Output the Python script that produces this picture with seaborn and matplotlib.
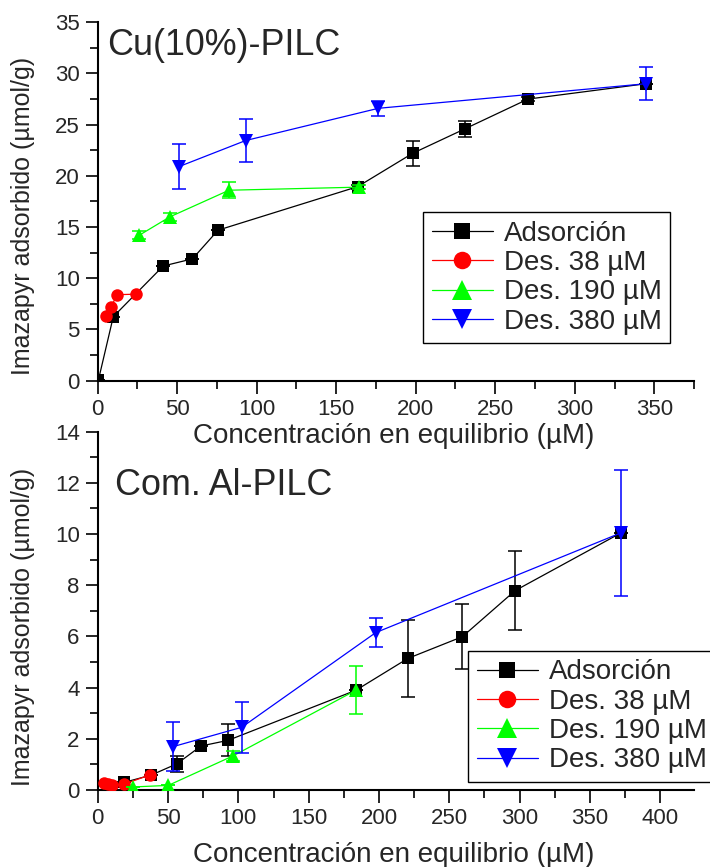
import matplotlib
matplotlib.use("Agg")
import matplotlib.pyplot as plt
import seaborn as sns
from matplotlib.ticker import MultipleLocator

# --- Cu(10%)-PILC (top panel) ---
cu_ads_x = [0.5, 9.8, 41.2, 59.6, 75.7, 163.5, 198, 231, 270.6, 344.8]
cu_ads_y = [0.1, 6.25, 11.2, 11.9, 14.7, 18.95, 22.2, 24.6, 27.5, 29.0]
cu_ads_err = [0, 0, 0, 0, 0, 0.2, 1.2, 0.8, 0.2, 0]

cu_d38_x = [5.2, 8.3, 12.3, 24.4]
cu_d38_y = [6.35, 7.2, 8.4, 8.45]

cu_d190_x = [26.1, 45.4, 82.6, 164.1]
cu_d190_y = [14.2, 16.0, 18.6, 18.9]
cu_d190_err = [0.4, 0.4, 0.8, 0.2]

cu_d380_x = [51, 93, 176.5, 344.8]
cu_d380_y = [20.9, 23.45, 26.6, 29.0]
cu_d380_err = [2.2, 2.1, 0.75, 1.6]

# --- Com. Al-PILC (bottom panel) ---
al_ads_x = [18.9, 37.9, 56.2, 73.5, 92.7, 183.7, 220.5, 259.3, 296.8, 372.2]
al_ads_y = [0.3, 0.58, 1.02, 1.72, 1.94, 3.9, 5.14, 5.99, 7.79, 10.05]
al_ads_err = [0, 0, 0.3, 0, 0.62, 0, 1.49, 1.26, 1.54, 0]

al_d38_x = [4.5, 7.5, 10.5, 18.5, 37.5]
al_d38_y = [0.26, 0.22, 0.18, 0.22, 0.6]

al_d190_x = [25.3, 50.2, 96.5, 183.7]
al_d190_y = [0.12, 0.18, 1.34, 3.9]
al_d190_err = [0, 0, 0.2, 0.93]

al_d380_x = [53.3, 102.4, 197.7, 372.2]
al_d380_y = [1.69, 2.45, 6.15, 10.05]
al_d380_err = [0.95, 1.0, 0.57, 2.47]

labels = ["Adsorción", "Des. 38 µM", "Des. 190 µM", "Des. 380 µM"]
colors = ["black", "#ff0000", "#00ff00", "#0000ff"]
markers = ["s", "o", "^", "v"]
msizes = [8, 9, 10, 10]

sns.set_theme(style="ticks")
plt.rcParams["font.family"] = ["Liberation Sans", "DejaVu Sans"]

fig = plt.figure(figsize=(7.1, 8.67), dpi=100)
ax1 = fig.add_axes([0.1376, 0.5609, 0.8399, 0.4134])
ax2 = fig.add_axes([0.1376, 0.0888, 0.8399, 0.4133])
for ax in (ax1, ax2):
    ax.set_facecolor("none")


def draw_panel(ax, series, errs):
    for i, (x, y) in enumerate(series):
        sns.lineplot(x=x, y=y, ax=ax, color=colors[i], marker=markers[i],
                     markersize=msizes[i], markeredgewidth=0, linewidth=0.9,
                     label=labels[i], zorder=3 + i)
        if errs[i] is not None:
            ax.errorbar(x, y, yerr=errs[i], fmt="none", ecolor=colors[i],
                        elinewidth=1.1, capsize=5, capthick=1.1, zorder=3 + i)


def style_axes(ax, xmax, ymax, ymaj, ymin):
    ax.set_xlim(0, xmax)
    ax.set_ylim(0, ymax)
    ax.xaxis.set_major_locator(MultipleLocator(50))
    ax.xaxis.set_minor_locator(MultipleLocator(25))
    ax.yaxis.set_major_locator(MultipleLocator(ymaj))
    ax.yaxis.set_minor_locator(MultipleLocator(ymin))
    sns.despine(ax=ax)
    for s in ["left", "bottom"]:
        ax.spines[s].set_linewidth(1.5)
        ax.spines[s].set_color("black")
    ax.tick_params(which="major", direction="out", length=9, width=1.2,
                   labelsize=16, color="black", pad=4)
    ax.tick_params(which="minor", direction="out", length=5.5, width=1.2,
                   color="black")
    ax.set_xlabel("Concentración en equilibrio (µM)", fontsize=20)
    ax.set_ylabel("Imazapyr adsorbido (µmol/g)", fontsize=18)


draw_panel(ax1,
           [(cu_ads_x, cu_ads_y), (cu_d38_x, cu_d38_y),
            (cu_d190_x, cu_d190_y), (cu_d380_x, cu_d380_y)],
           [cu_ads_err, None, cu_d190_err, cu_d380_err])
draw_panel(ax2,
           [(al_ads_x, al_ads_y), (al_d38_x, al_d38_y),
            (al_d190_x, al_d190_y), (al_d380_x, al_d380_y)],
           [al_ads_err, None, al_d190_err, al_d380_err])

style_axes(ax1, 375, 35, 5, 2.5)
style_axes(ax2, 424, 14, 2, 1)

ax1.xaxis.set_label_coords(0.497, -0.118)
ax2.xaxis.set_label_coords(0.497, -0.145)
ax1.yaxis.set_label_coords(-0.105, 0.46)
ax2.yaxis.set_label_coords(-0.105, 0.455)

ax1.text(0.0156, 0.934, "Cu(10%)-PILC", transform=ax1.transAxes,
         fontsize=25.8, va="center", ha="left")
ax2.text(0.029, 0.851, "Com. Al-PILC", transform=ax2.transAxes,
         fontsize=25.8, va="center", ha="left")

for ax, anchor in [(ax1, (0.546, 0.47)), (ax2, (0.6215, 0.388))]:
    leg = ax.legend(loc="upper left", bbox_to_anchor=anchor, borderaxespad=0,
                    fontsize=20, handlelength=2.2, labelspacing=0.12,
                    handletextpad=0.4, borderpad=0.3, fancybox=False,
                    framealpha=1, edgecolor="black", markerscale=1.4)
    leg.get_frame().set_linewidth(1.0)

fig.savefig("out.png", dpi=100)
